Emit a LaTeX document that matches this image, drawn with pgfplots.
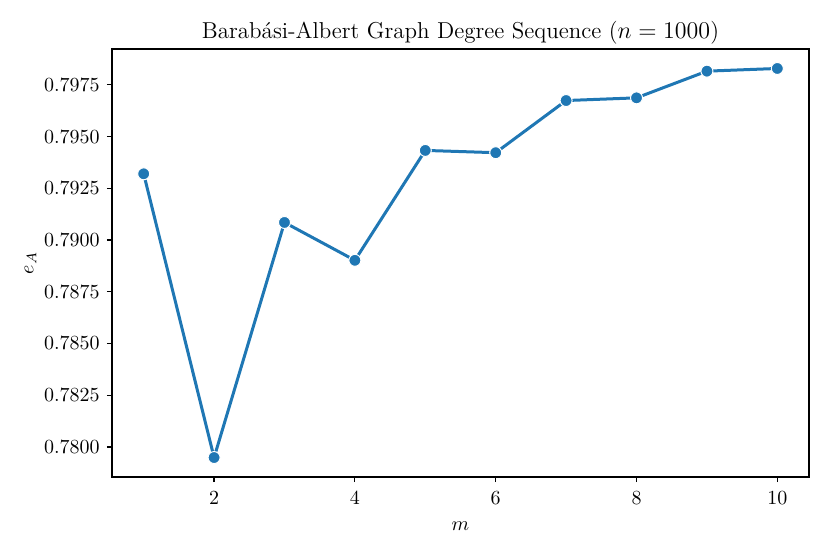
\documentclass[border=0pt]{standalone}
\usepackage{fontspec}
\usepackage{pgfplots}
\pgfplotsset{compat=1.18}

\definecolor{tabblue}{HTML}{1F77B4}

\begin{document}
\begin{tikzpicture}
    \begin{axis}[
        scale only axis,
        width=348.5pt, height=214pt,
        xmin=0.55, xmax=10.45,
        ymin=0.77855, ymax=0.79923,
        xtick={2,4,6,8,10},
        ytick={0.78,0.7825,0.785,0.7875,0.79,0.7925,0.795,0.7975},
        yticklabel style={/pgf/number format/.cd, fixed, fixed zerofill, precision=4},
        tick label style={font=\fontsize{9.7}{12}\selectfont},
        xticklabel style={yshift=-1pt},
        tick align=outside,
        xtick pos=bottom, ytick pos=left,
        major tick length=2.6pt,
        axis line style={line width=0.6pt},
        every tick/.style={black, line width=0.6pt},
        title={Barabási-Albert Graph Degree Sequence ($n = 1000$)},
        title style={font=\fontsize{11.5}{14}\selectfont, yshift=-7pt},
        xlabel={$m$},
        ylabel={$e_A$},
        label style={font=\fontsize{9.7}{12}\selectfont},
        xlabel style={yshift=-2pt},
        ylabel style={yshift=-3pt},
    ]
    \addplot[color=tabblue, line width=1.5pt,
        mark=*, mark size=3pt,
        mark options={fill=tabblue, draw=white, line width=0.5pt}]
    coordinates {
        (1, 0.79320)
        (2, 0.77949)
        (3, 0.79085)
        (4, 0.78902)
        (5, 0.79433)
        (6, 0.79422)
        (7, 0.79674)
        (8, 0.79687)
        (9, 0.79816)
        (10, 0.79829)
    };
    \end{axis}
    \pgfresetboundingbox
    \path[use as bounding box] (current axis.south west) ++(-56pt,-38.5pt) rectangle ++(415pt,277pt);
\end{tikzpicture}
\end{document}
